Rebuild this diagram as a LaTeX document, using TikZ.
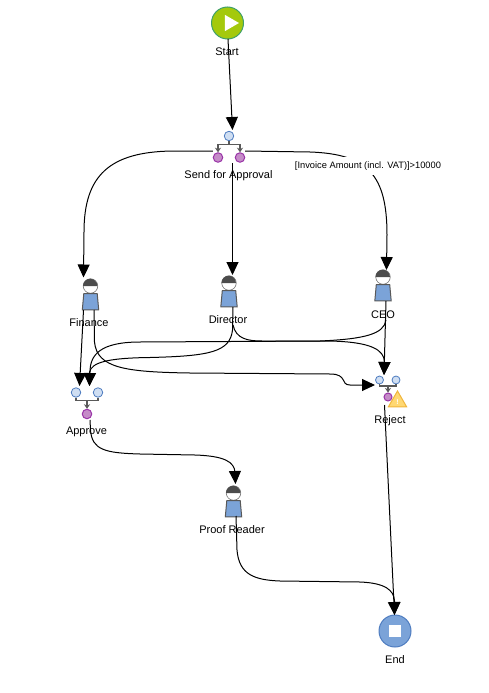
\documentclass[tikz,border=0pt]{standalone}
\usepackage{fontspec}
\setmainfont{Liberation Sans}
\usetikzlibrary{arrows.meta,calc,shapes.geometric}
\definecolor{startc}{HTML}{A4C90C}
\definecolor{startb}{HTML}{3FA06A}
\definecolor{endc}{HTML}{7BA3D8}
\definecolor{endb}{HTML}{4E7CC0}
\definecolor{inc}{HTML}{CFDEF2}
\definecolor{outc}{HTML}{C58CC8}
\definecolor{outb}{HTML}{9A35A8}
\definecolor{warnc}{HTML}{FFD873}
\definecolor{warnb}{HTML}{F0B53C}
\tikzset{
  lbl/.style={font=\fontsize{11}{13}\selectfont, inner sep=0pt},
  clbl/.style={font=\fontsize{9.3}{11}\selectfont, inner sep=0pt, fill=white, minimum height=18pt},
  arr/.style={-{Triangle[length=13pt,width=12pt]}, line width=1pt, black},
  inport/.style={circle, draw=endb, fill=inc, line width=0.8pt, inner sep=0pt, minimum size=9.5pt},
  outport/.style={circle, draw=outb, fill=outc, line width=1pt, inner sep=0pt, minimum size=9.5pt},
  wire/.style={draw=black!65, line width=1.1pt},
  wirearr/.style={wire, -{Stealth[length=4.5pt,width=6pt]}},
  head/.style={circle, draw=black!55, fill=white, line width=0.6pt, inner sep=0pt, minimum size=14.5pt},
  body/.style={inner sep=0pt, minimum width=16pt, minimum height=16pt},
}
% person symbol, #1 name, #2 x, #3 y of the head
\newcommand{\actor}[3]{
  \node[head] (#1head) at (#2,#3) {};
  \fill[black!70] (#1head.west) arc (180:0:7.25pt) -- cycle;
  \node[body, anchor=north] (#1) at (#2,#3+7.5) {};
  \draw[draw=black!65, fill=endc, line width=1pt] (#1.south west) -- ($(#1.north west)+(1.5,0)$)
    -- ($(#1.north east)+(-1.5,0)$) -- (#1.south east) -- cycle;
}
\begin{document}
\begin{tikzpicture}[x=1pt,y=-1pt]
  \useasboundingbox (0,0) rectangle (489,693);

  % start and end
  \node[circle, draw=startb, fill=startc, line width=1pt, inner sep=0pt, minimum size=32pt] (start) at (227.5,23) {};
  \node[regular polygon, regular polygon sides=3, shape border rotate=-90, fill=white, inner sep=0pt, minimum size=19pt] (play) at (229.5,23) {};
  \node[lbl] (startlbl) at (227,51.5) {Start};
  \node[circle, draw=endb, fill=endc, line width=1pt, inner sep=0pt, minimum size=32pt] (finish) at (395,631) {};
  \node[fill=white, inner sep=0pt, minimum size=12pt] (stopbox) at (395,631) {};
  \node[lbl] (finishlbl) at (395,659.5) {End};

  % send for approval
  \node[inner sep=0pt, minimum width=32pt, minimum height=33pt] (send) at (229,146.5) {};
  \node[inport] (sendin) at (229,136) {};
  \node[outport] (sendout1) at (218,157.5) {};
  \node[outport] (sendout2) at (240,157.5) {};
  \draw[wire] (sendin.south) -- (229,144.5);
  \draw[wirearr] (229,144.5) -| (sendout1.north);
  \draw[wirearr] (229,144.5) -| (sendout2.north);
  \node[lbl] (sendlbl) at (228.5,175.5) {Send for Approval};

  % people
  \actor{finance}{90.5}{286}
  \actor{director}{229}{283}
  \actor{ceo}{383}{277}
  \actor{proof}{233.5}{493}

  % approve
  \node[inner sep=0pt, minimum width=32pt, minimum height=32pt] (approve) at (87,403) {};
  \node[inport] (approvein1) at (76,392.5) {};
  \node[inport] (approvein2) at (98,392.5) {};
  \node[outport] (approveout) at (87,414) {};
  \draw[wire] (approvein1.south) |- (87,400.5) -| (approvein2.south);
  \draw[wirearr] (87,400.5) -- (approveout.north);

  % reject
  \node[inner sep=0pt, minimum width=33pt, minimum height=32pt] (reject) at (391,391) {};
  \node[inport, minimum size=8pt] (rejectin1) at (379.5,380) {};
  \node[inport, minimum size=8pt] (rejectin2) at (396,380) {};
  \node[outport, minimum size=8pt] (rejectout) at (388,397) {};
  \draw[wire] (rejectin1.south) |- (388,386) -| (rejectin2.south);
  \draw[wirearr] (388,386) -- (rejectout.north);
  \node[regular polygon, regular polygon sides=3, draw=warnb, fill=warnc, line width=1pt, inner sep=0pt, minimum size=21pt] (warning) at (397.5,401.5) {};
  \node[font=\fontsize{7}{8}\selectfont\bfseries, text=white, inner sep=0pt] (warnmark) at (397.5,402) {!};

  % connectors
  \coordinate (startout) at (228,39);
  \coordinate (sendtop) at (232.5,130);
  \draw[arr] (startout) -- (sendtop);

  \coordinate (financein) at (83.5,277.5);
  \coordinate (directorin) at (232.5,275);
  \coordinate (ceoin) at (386.5,270);
  \draw[arr] (send.west |- 0,151) -- (172,151) .. controls (110,152) and (84,175) .. (84,232) -- (financein);
  \draw[arr] (232.5,163) -- (directorin);
  \draw[arr] (send.east |- 0,151) -- (310,152) .. controls (368,154) and (387,175) .. (387,235) -- (ceoin);

  \coordinate (approvetip1) at (79.5,386);
  \coordinate (approvetip2) at (89.5,386);
  \coordinate (rejecttip1) at (375,385);
  \coordinate (rejecttip2) at (384,375);
  \coordinate (proofin) at (235.5,484);
  \coordinate (finishin) at (394.5,615);

  % out of finance
  \draw[arr] (83.5,310) -- (approvetip1);
  \draw[arr] (94,310) -- (94.5,342) .. controls (97,368) and (125,372) .. (190,373) -- (330,374)
    .. controls (348,374) and (340,385) .. (350,385) -- (rejecttip1);

  % out of director
  \draw[arr] (233,307) -- (232.5,330) .. controls (230,352) and (210,356) .. (150,357.5)
    .. controls (105,358) and (92,363) .. (89.5,372) -- (approvetip2);
  \draw[arr] (233,325) .. controls (236,339) and (248,341) .. (262,341) -- (330,341)
    .. controls (372,342) and (384,350) .. (384.5,362) -- (rejecttip2);

  % out of ceo
  \draw[arr] (386,301) -- (rejecttip2);
  \draw[arr] (386,320) .. controls (384,334) and (365,339) .. (320,341) -- (140,342)
    .. controls (100,342) and (90,355) .. (90,372) -- (approvetip2);

  \draw[arr] (90,420) -- (90.5,430) .. controls (92,450) and (105,453) .. (140,454) -- (195,455)
    .. controls (225,456) and (234,462) .. (235,472) -- (proofin);
  \draw[arr] (236,516) -- (237,550) .. controls (239,575) and (255,580) .. (280,581) -- (360,582)
    .. controls (385,583) and (394,590) .. (394.5,601) -- (finishin);
  \draw[arr] (384.5,405) -- (finishin);

  % labels
  \node[lbl] (financelbl) at (89,322.5) {Finance};
  \node[lbl] (directorlbl) at (228,319.5) {Director};
  \node[lbl] (ceolbl) at (383,314.5) {CEO};
  \node[lbl] (approvelbl) at (86.5,431.5) {Approve};
  \node[lbl] (rejectlbl) at (390,420.5) {Reject};
  \node[lbl] (prooflbl) at (232,529.5) {Proof Reader};
  \node[clbl] (condlbl) at (368,166) {[Invoice Amount (incl. VAT)]>10000};
\end{tikzpicture}
\end{document}
